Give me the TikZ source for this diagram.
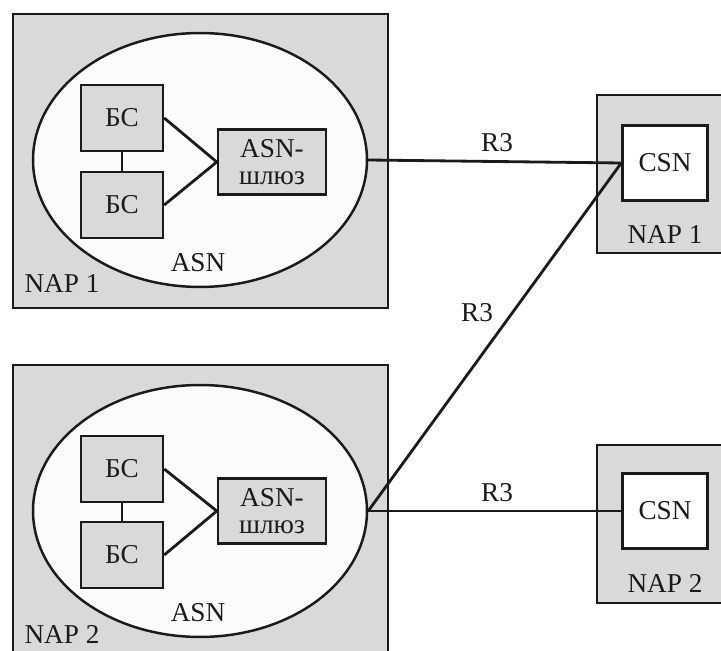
\documentclass[tikz,border=0pt]{standalone}
\usepackage{fontspec}
\setmainfont{Liberation Serif}
\usepackage{tikz}
\usetikzlibrary{shapes.geometric}
\definecolor{napgrey}{HTML}{D9D9D9}
\definecolor{asnwhite}{HTML}{FCFCFC}
\definecolor{ink}{HTML}{1A1A1A}

\begin{document}
\begin{tikzpicture}[x=0.02cm,y=-0.02cm,
  every node/.style={font=\fontsize{15.5}{18}\selectfont,text=ink},
  napbox/.style={draw=ink,fill=napgrey,line width=1.5pt},
  asnarea/.style={ellipse,draw=ink,fill=asnwhite,line width=1.4pt,inner sep=0pt,minimum width=6.68cm,minimum height=5.08cm},
  bsbox/.style={draw=ink,fill=napgrey,line width=1.4pt,minimum width=1.64cm,minimum height=1.32cm,inner sep=0pt},
  gwbox/.style={draw=ink,fill=napgrey,line width=1.4pt,minimum width=2.16cm,minimum height=1.3cm,inner sep=0pt,align=center,font=\fontsize{15.5}{15.5}\selectfont},
  csnbox/.style={draw=ink,fill=white,line width=1.4pt,minimum width=1.7cm,minimum height=1.5cm,inner sep=0pt},
  link/.style={draw=ink,line width=1.6pt}]
\path[use as bounding box,clip] (0,0) rectangle (721,651);
% NAP containers
\draw[napbox] (13,14) rectangle (388,308);
\draw[napbox] (13,365) rectangle (388,680);
\draw[napbox] (597,95) rectangle (760,253);
\draw[napbox] (597,445) rectangle (760,603);
% upper ASN
\node[asnarea] (asn1) at (200,160) {};
\node[bsbox] (bs1a) at (122,118) {БС};
\node[bsbox] (bs1b) at (122,205) {БС};
\node[gwbox] (gw1) at (272,162) {ASN-\\шлюз};
\draw[link] (bs1a) -- (bs1b);
\draw[link] (bs1a.east) -- (gw1.west);
\draw[link] (bs1b.east) -- (gw1.west);
\node (asn1lbl) at (198,263) {ASN};
\node (nap1lbl) at (62,284) {NAP 1};
% lower ASN
\node[asnarea,minimum height=5.04cm] (asn2) at (200,511) {};
\node[bsbox] (bs2a) at (122,469) {БС};
\node[bsbox] (bs2b) at (122,555) {БС};
\node[gwbox] (gw2) at (272,511) {ASN-\\шлюз};
\draw[link] (bs2a) -- (bs2b);
\draw[link] (bs2a.east) -- (gw2.west);
\draw[link] (bs2b.east) -- (gw2.west);
\node (asn2lbl) at (198,613) {ASN};
\node (nap2lbl) at (62,634) {NAP 2};
% CSN side
\node[csnbox] (csn1) at (665,163) {CSN};
\node (napr1lbl) at (665,235) {NAP 1};
\node[csnbox] (csn2) at (665,511) {CSN};
\node (napr2lbl) at (665,583) {NAP 2};
% R3 links
\draw[link] (asn1.east) -- (csn1.west);
\draw[link] (asn2.east) -- (csn1.west);
\draw[link] (asn2.east) -- (csn2.west);
\node (r3a) at (497,143) {R3};
\node (r3b) at (477,313) {R3};
\node (r3c) at (497,493) {R3};
\end{tikzpicture}
\end{document}
